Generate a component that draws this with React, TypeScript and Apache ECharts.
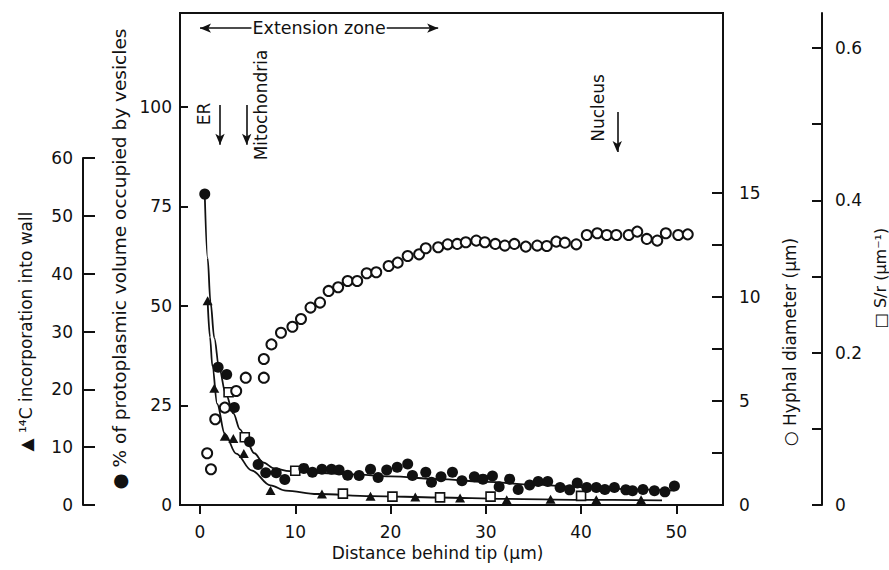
import React, { useEffect, useRef } from 'react';
import * as echarts from 'echarts';

// ---- tick values ----
const X_TICKS = [0, 10, 20, 30, 40, 50];
const VES_TICKS = [25, 50, 75, 100];
const VES_LABELS = [0, 25, 50, 75, 100];
const C14_TICKS = [0, 10, 20, 30, 40, 50, 60];
const HYPH_TICKS = [2.5, 5, 7.5, 10, 12.5, 15];
const HYPH_LABELS = [0, 5, 10, 15];
const SR_TICKS = [0, 0.1, 0.2, 0.3, 0.4, 0.5, 0.6];
const SR_LABELS = [0, 0.2, 0.4, 0.6];

// ---- data: [distance behind tip (µm), value] ----
const vesiclePoints = [
  [0.5, 78.1], [1.9, 34.6], [2.8, 32.8], [3.6, 24.5], [5.2, 15.9], [6.1, 10.2], [6.9, 8.1], [8.0, 8.1],
  [8.9, 6.4], [10.9, 9.2], [11.8, 8.2], [12.8, 9.0], [13.8, 9.0], [14.6, 8.8], [15.5, 7.5], [16.7, 7.4],
  [17.9, 9.0], [18.7, 6.9], [19.6, 8.8], [20.7, 9.5], [21.8, 10.3], [22.3, 7.4], [23.7, 8.2], [24.3, 5.7],
  [25.3, 7.1], [26.5, 8.2], [27.5, 6.1], [28.8, 7.1], [29.7, 6.5], [30.7, 7.3], [31.4, 4.6], [32.5, 6.5],
  [33.4, 3.9], [34.6, 5.0], [35.5, 5.9], [36.5, 5.9], [37.8, 4.4], [38.8, 3.8], [39.6, 5.5], [40.6, 4.4],
  [41.6, 4.4], [42.5, 3.9], [43.5, 4.4], [44.7, 3.8], [45.4, 3.6], [46.5, 3.9], [47.7, 3.6], [48.8, 3.3],
  [49.8, 4.8],
];
const vesicleCurve = [
  [0.5, 78], [0.8, 62], [1.1, 51], [1.5, 42], [2.0, 34.5], [2.7, 28], [3.5, 23], [4.2, 19], [4.9, 16],
  [5.7, 13], [6.6, 10.7], [7.8, 9.2], [9.4, 8.5], [12, 8.1], [16, 7.7], [20, 7.2], [25, 6.5], [30, 5.8],
  [35, 5.1], [40, 4.5], [45, 4.0], [49.8, 3.6],
];
const c14Points = [
  [0.8, 35.3], [1.5, 20.2], [2.6, 11.9], [3.5, 11.5], [4.6, 8.9], [7.4, 2.5], [12.8, 1.9], [17.9, 1.5],
  [22.6, 1.4], [27.3, 1.2], [32.2, 0.9], [36.8, 1.0], [41.6, 0.9], [46.3, 0.9],
];
const c14Curve = [
  [0.8, 35.3], [1.05, 29], [1.3, 24], [1.8, 17.5], [2.6, 12.3], [3.8, 8.9], [5.4, 6.0], [7.4, 3.4],
  [9, 2.5], [12.3, 1.9], [18, 1.55], [25, 1.3], [32, 1.05], [40, 0.9], [48.5, 0.8],
];
const hyphalPoints = [
  [0.75, 2.49], [1.15, 1.72], [1.6, 4.12], [2.6, 4.68], [3.8, 5.48], [4.8, 6.12], [6.7, 6.12], [6.7, 7.02],
  [7.5, 7.72], [8.5, 8.28], [9.7, 8.57], [10.6, 8.94], [11.6, 9.49], [12.6, 9.73], [13.5, 10.29], [14.5, 10.47],
  [15.5, 10.77], [16.5, 10.77], [17.5, 11.14], [18.5, 11.19], [19.8, 11.49], [20.75, 11.65], [21.8, 11.97],
  [23.0, 12.05], [23.7, 12.34], [25.0, 12.39], [26.0, 12.53], [27.0, 12.55], [27.9, 12.63], [29.0, 12.71],
  [29.9, 12.63], [31.0, 12.55], [32.0, 12.47], [33.0, 12.55], [34.2, 12.42], [35.4, 12.47], [36.4, 12.45],
  [37.4, 12.66], [38.3, 12.61], [39.5, 12.53], [40.6, 12.98], [41.7, 13.06], [42.7, 12.98], [43.7, 12.98],
  [45.0, 12.98], [45.9, 13.14], [46.9, 12.79], [48.0, 12.71], [48.9, 13.06], [50.2, 12.98], [51.2, 13.01],
];
const srPoints = [
  [3.0, 0.148], [4.7, 0.089], [10.0, 0.045], [15.0, 0.015], [20.2, 0.011], [25.2, 0.010], [30.5, 0.011], [40.0, 0.012],
];

// annotations (distance behind tip, µm)
const extensionZone = [0, 25];
const organelles = [
  { name: 'ER', x: 2.1 },
  { name: 'Mitochondria', x: 4.9 },
  { name: 'Nucleus', x: 43.8 },
];

const FONT = 'DejaVu Sans';
const INK = '#111';

export default function App() {
  const ref = useRef<HTMLDivElement>(null);
  useEffect(() => {
    if (!ref.current) return;
    const chart = echarts.init(ref.current, null, { renderer: 'svg' });
    const lineStyle = { color: INK, width: 2 };
    const axisLine = { show: true, onZero: false, lineStyle };
    const label = (vals: number[], margin: number) => ({
      customValues: vals, fontSize: 17, color: INK, fontFamily: FONT, margin,
    });
    const nameStyle = (padding: number[], fontSize = 17) => ({ fontSize, color: INK, fontFamily: FONT, padding });

    // arrow positions (main-axis units) for the organelle arrows
    const arrowY: Record<string, [number, number]> = {
      ER: [100.5, 90.5], Mitochondria: [100.5, 90.5], Nucleus: [98.7, 88.7],
    };
    const zoneY = 119.8;

    const option: any = {
      animation: false,
      backgroundColor: '#fff',
      textStyle: { fontFamily: FONT },
      grid: [
        { left: 180, right: 166, top: 13, bottom: 65, show: true, borderColor: INK, borderWidth: 2, backgroundColor: 'transparent', containLabel: false, outerBoundsMode: 'none' },
        { left: 180, right: 166, top: 158, bottom: 65, show: false, containLabel: false, outerBoundsMode: 'none' },
      ],
      xAxis: [
        {
          type: 'value', gridIndex: 0, min: -2.1, max: 54.9,
          axisLine,
          axisTick: { show: true, inside: false, length: 9, customValues: X_TICKS, lineStyle },
          axisLabel: label(X_TICKS, 18),
          splitLine: { show: false },
          name: 'Distance behind tip (μm)', nameLocation: 'middle', nameGap: 38,
          nameTextStyle: nameStyle([0, 28, 0, 0]),
        },
        { type: 'value', gridIndex: 1, min: -2.1, max: 54.9, show: false, axisLine: { onZero: false }, splitLine: { show: false } },
      ],
      yAxis: [
        {
          type: 'value', gridIndex: 0, position: 'left', min: 0, max: 123.6,
          axisLine,
          axisTick: { show: true, inside: true, length: 8, customValues: VES_TICKS, lineStyle },
          axisLabel: label(VES_LABELS, 8),
          splitLine: { show: false },
          name: '● % of protoplasmic volume occupied by vesicles', nameLocation: 'middle', nameGap: 51,
          nameTextStyle: nameStyle([0, 0, 0, 0], 18.5),
        },
        {
          type: 'value', gridIndex: 1, position: 'left', offset: 97, min: 0, max: 60,
          axisLine,
          axisTick: { show: true, inside: true, length: 12, customValues: C14_TICKS, lineStyle },
          axisLabel: label(C14_TICKS, 10),
          splitLine: { show: false },
          name: '▲ ¹⁴C incorporation into wall', nameLocation: 'middle', nameGap: 49,
          nameTextStyle: nameStyle([0, 0, 0, 0]),
        },
        {
          type: 'value', gridIndex: 0, position: 'right', min: 0, max: 23.65,
          axisLine,
          axisTick: { show: true, inside: true, length: 11, customValues: HYPH_TICKS, lineStyle },
          axisLabel: label(HYPH_LABELS, 16),
          splitLine: { show: false },
          name: '○ Hyphal diameter (μm)', nameLocation: 'middle', nameGap: 58,
          nameTextStyle: nameStyle([0, 166, 0, 0]),
        },
        {
          type: 'value', gridIndex: 0, position: 'right', offset: 99, min: 0, max: 0.646,
          axisLine,
          axisTick: { show: true, inside: true, length: 10, customValues: SR_TICKS, lineStyle },
          axisLabel: label(SR_LABELS, 13),
          splitLine: { show: false },
          name: '□ S/r (μm⁻¹)', nameLocation: 'middle', nameGap: 49,
          nameTextStyle: nameStyle([0, 38, 0, 0], 16),
        },
      ],
      series: [
        {
          type: 'line', xAxisIndex: 0, yAxisIndex: 0, data: vesicleCurve, smooth: 0.35, smoothMonotone: 'x',
          symbol: 'none', lineStyle: { color: INK, width: 1.8 }, silent: true, z: 1,
        },
        {
          type: 'line', xAxisIndex: 1, yAxisIndex: 1, data: c14Curve, smooth: 0.35, smoothMonotone: 'x',
          symbol: 'none', lineStyle: { color: INK, width: 1.8 }, silent: true, z: 1,
        },
        {
          type: 'scatter', xAxisIndex: 0, yAxisIndex: 3, data: srPoints, symbol: 'rect', symbolSize: 9,
          itemStyle: { color: '#fff', borderColor: INK, borderWidth: 1.6, opacity: 1 }, z: 3, silent: true,
        },
        {
          type: 'scatter', xAxisIndex: 1, yAxisIndex: 1, data: c14Points, symbol: 'triangle', symbolSize: [10, 9],
          itemStyle: { color: INK, opacity: 1 }, z: 3, silent: true,
        },
        {
          type: 'scatter', xAxisIndex: 0, yAxisIndex: 0, data: vesiclePoints, symbol: 'circle', symbolSize: 11,
          itemStyle: { color: INK, opacity: 1 }, z: 4, silent: true,
          markLine: {
            silent: true,
            symbol: ['none', 'arrow'], symbolSize: [7, 11],
            lineStyle: { color: INK, width: 1.6, type: 'solid' },
            label: { show: false },
            emphasis: { disabled: true },
            data: [
              [
                {
                  coord: [extensionZone[0], zoneY], symbol: 'arrow',
                  label: {
                    show: true, position: 'insideMiddle', formatter: 'Extension zone', fontSize: 17.5,
                    color: INK, fontFamily: FONT, backgroundColor: '#fff', padding: [0, 1],
                  },
                },
                { coord: [extensionZone[1], zoneY], symbol: 'arrow' },
              ],
              ...organelles.map((o) => [
                { coord: [o.x, arrowY[o.name][0]], symbol: 'none' },
                { coord: [o.x, arrowY[o.name][1]], symbol: 'arrow' },
              ]),
            ],
          },
        },
        {
          type: 'scatter', xAxisIndex: 0, yAxisIndex: 2, data: hyphalPoints, symbol: 'circle', symbolSize: 10,
          itemStyle: { color: '#fff', borderColor: INK, borderWidth: 2, opacity: 1 }, z: 4, silent: true,
        },
      ],
      graphic: [
        { type: 'text', x: 204, y: 114, rotation: Math.PI / 2, style: { text: organelles[0].name, font: `17px "${FONT}"`, fill: INK, textAlign: 'center', textVerticalAlign: 'middle' } },
        { type: 'text', x: 261, y: 105, rotation: Math.PI / 2, style: { text: organelles[1].name, font: `17px "${FONT}"`, fill: INK, textAlign: 'center', textVerticalAlign: 'middle' } },
        { type: 'text', x: 598, y: 108, rotation: Math.PI / 2, style: { text: organelles[2].name, font: `17px "${FONT}"`, fill: INK, textAlign: 'center', textVerticalAlign: 'middle' } },
      ],
    };
    chart.setOption(option);
    return () => chart.dispose();
  }, []);
  return <div ref={ref} style={{ position: 'fixed', left: 0, top: 0, width: 889, height: 570, background: '#fff' }} />;
}
